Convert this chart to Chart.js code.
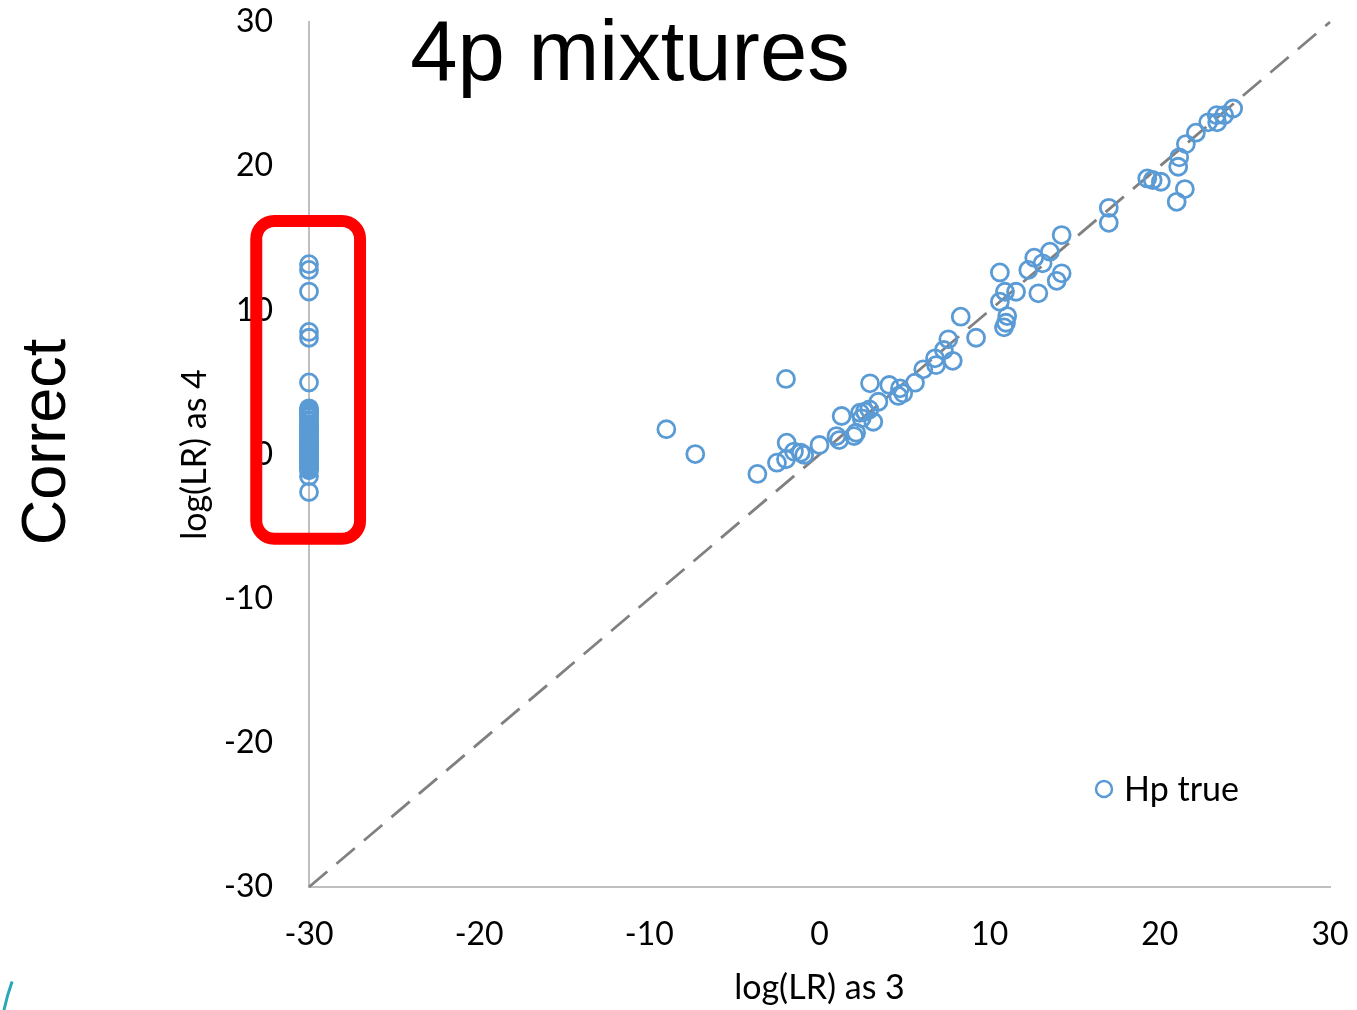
<!DOCTYPE html>
<html>
<head>
<meta charset="utf-8">
<script src="https://cdn.jsdelivr.net/npm/chart.js@4.4.1/dist/chart.umd.min.js"></script>
<style>
  html, body { margin: 0; padding: 0; background: #fff; }
  #cadre { width: 1357px; height: 1010px; position: relative; }
</style>
</head>
<body>
<div id="cadre"><canvas id="graphe"></canvas></div>
<script>
// 4p mixtures — log(LR) sous 3 contributeurs vs 4 contributeurs

const TICKS = [-30, -20, -10, 0, 10, 20, 30];

// diagonale y = x
const DIAG_X = [-30, 30];
const DIAG_Y = [-30, 30];

// Hp true, colonne collée à x = -30 (paquet très dense autour de 0)
const COLONNE_Y = [
  13.2, 12.8, 11.3, 8.5, 8.1, 5.0,
  3.2, 3.1, 3.0, 2.9, 2.8, 2.7, 2.6, 2.4, 2.3, 2.1, 2.0, 1.9, 1.8, 1.6,
  1.5, 1.4, 1.3, 1.1, 1.0, 0.9, 0.8, 0.7, 0.6, 0.5, 0.4, 0.3, 0.2, 0.1,
  0.0, -0.1, -0.2, -0.3, -0.4, -0.5, -0.6, -0.7, -0.8, -0.9, -1.0, -1.1,
  -1.5, -2.6,
];
const COLONNE_X = COLONNE_Y.map(() => -30);

// Hp true, nuage le long de la diagonale
const NUAGE_X = [
  -9.0, -7.3, -1.97, -3.65, -2.5, -1.93, -1.97, -1.5, -1.1, -0.9, 0.0, 1.0,
  1.16, 1.3, 2.03, 2.15, 2.38, 2.48, 2.67, 2.93, 3.16, 2.97, 3.46, 4.1,
  4.73, 4.63, 4.92, 5.61, 6.1, 6.79, 6.85, 7.31, 7.57, 7.83, 8.3, 9.2,
  10.6, 10.6, 10.9, 11.55, 11.03, 10.96, 10.84, 12.27, 12.62, 13.11, 13.54, 12.86,
  13.94, 14.23, 14.23, 17.0, 17.0, 19.26, 19.58, 20.06, 21.08, 21.14, 21.53, 22.12,
  21.47, 20.99, 22.84, 23.34, 23.37, 23.78, 24.31,
];
const NUAGE_Y = [
  1.75, 0.03, 5.24, -1.35, -0.57, 0.82, -0.33, 0.2, 0.12, -0.03, 0.66, 1.28,
  1.0, 2.67, 1.28, 1.51, 2.9, 2.51, 2.97, 3.13, 2.27, 4.94, 3.66, 4.82,
  4.59, 4.06, 4.24, 4.98, 5.91, 6.67, 6.2, 7.25, 7.99, 6.5, 9.56, 8.1,
  12.63, 10.6, 11.29, 11.29, 9.6, 9.14, 8.82, 12.8, 13.65, 13.26, 14.07, 11.18,
  12.05, 12.57, 15.22, 17.11, 16.07, 19.15, 19.04, 18.92, 19.96, 20.61, 21.53, 22.32,
  18.41, 17.53, 23.04, 23.54, 23.04, 23.54, 24.0,
];

// encadré rouge autour de la colonne x = -30
const ENCADRE_X = [-33.1, -27.0];
const ENCADRE_Y = [-5.85, 16.2];

const BLEU = "#5b9bd5";
const POLICE = "Lato, 'Open Sans', sans-serif";

function enPoints(xs, ys) {
  return xs.map((v, i) => ({ x: v, y: ys[i] }));
}

const decor = {
  id: "decor",
  afterDatasetsDraw(chart) {
    const { ctx } = chart;
    const sx = chart.scales.x;
    const sy = chart.scales.y;
    ctx.save();

    // encadré
    const x0 = sx.getPixelForValue(ENCADRE_X[0]);
    const x1 = sx.getPixelForValue(ENCADRE_X[1]);
    const y0 = sy.getPixelForValue(ENCADRE_Y[1]);
    const y1 = sy.getPixelForValue(ENCADRE_Y[0]);
    ctx.strokeStyle = "#ff0000";
    ctx.lineWidth = 12;
    ctx.beginPath();
    ctx.roundRect(x0, y0, x1 - x0, y1 - y0, 18);
    ctx.stroke();

    // titre
    ctx.fillStyle = "#000";
    ctx.font = "85px 'Liberation Sans', Arial, sans-serif";
    ctx.textAlign = "center";
    ctx.textBaseline = "alphabetic";
    ctx.fillText("4p mixtures", 630, 80);

    // légende
    const ds = chart.data.datasets[0];
    ctx.strokeStyle = BLEU;
    ctx.lineWidth = 2.5;
    ctx.beginPath();
    ctx.arc(1104, 789, 8, 0, Math.PI * 2);
    ctx.stroke();
    ctx.font = "34px " + POLICE;
    ctx.textAlign = "left";
    ctx.textBaseline = "middle";
    ctx.fillText(ds.label, 1124, 790);

    // petit arc du gabarit de diapo
    ctx.strokeStyle = "#2aa7b8";
    ctx.lineWidth = 3;
    ctx.beginPath();
    ctx.arc(200, 1050, 200, Math.PI, Math.PI + 0.35);
    ctx.stroke();

    // "Correct" vertical
    ctx.translate(65, 442);
    ctx.rotate(-Math.PI / 2);
    ctx.fillStyle = "#000";
    ctx.font = "63px 'Liberation Sans', Arial, sans-serif";
    ctx.textAlign = "center";
    ctx.textBaseline = "alphabetic";
    ctx.fillText("Correct", 0, 0);

    ctx.restore();
  },
};

function axe(titre, fixer, titrePadding, tickPadding) {
  return {
    type: "linear",
    min: TICKS[0],
    max: TICKS[TICKS.length - 1],
    afterBuildTicks: (s) => { s.ticks = TICKS.map((v) => ({ value: v })); },
    afterFit: (s) => {
      fixer(s);
      s.paddingTop = 0;
      s.paddingBottom = 0;
      s.paddingLeft = 0;
      s.paddingRight = 0;
    },
    grid: { display: false, drawTicks: false },
    border: { display: true, color: "#bfbfbf", width: 2 },
    ticks: { color: "#000", font: { family: POLICE, size: 32 }, padding: tickPadding },
    title: {
      display: true,
      text: titre,
      color: "#000",
      font: { family: POLICE, size: 34 },
      padding: titrePadding,
    },
  };
}

function dessiner() {
  new Chart(document.getElementById("graphe"), {
    type: "scatter",
    data: {
      datasets: [
        {
          label: "Hp true",
          data: enPoints(COLONNE_X, COLONNE_Y).concat(enPoints(NUAGE_X, NUAGE_Y)),
          pointRadius: 8.5,
          pointBorderWidth: 2.8,
          pointBorderColor: BLEU,
          pointBackgroundColor: "rgba(0,0,0,0)",
          clip: false,
          order: 1,
        },
        {
          type: "line",
          label: "diagonale",
          data: enPoints(DIAG_X, DIAG_Y),
          borderColor: "#808080",
          borderWidth: 2.8,
          borderDash: [24, 12],
          pointRadius: 0,
          fill: false,
          clip: false,
          order: 2,
        },
      ],
    },
    options: {
      responsive: true,
      maintainAspectRatio: false,
      animation: false,
      events: [],
      layout: { padding: { top: 22, right: 27, left: 0, bottom: 0 } },
      plugins: { legend: { display: false }, tooltip: { enabled: false } },
      scales: {
        x: axe("log(LR) as 3", (s) => { s.height = 123; }, { top: 0, bottom: 2 }, 28),
        y: axe("log(LR) as 4", (s) => { s.width = 309; }, { top: 175, bottom: 0 }, 36),
      },
    },
    plugins: [decor],
  });
}

document.addEventListener("DOMContentLoaded", dessiner);
</script>
</body>
</html>
